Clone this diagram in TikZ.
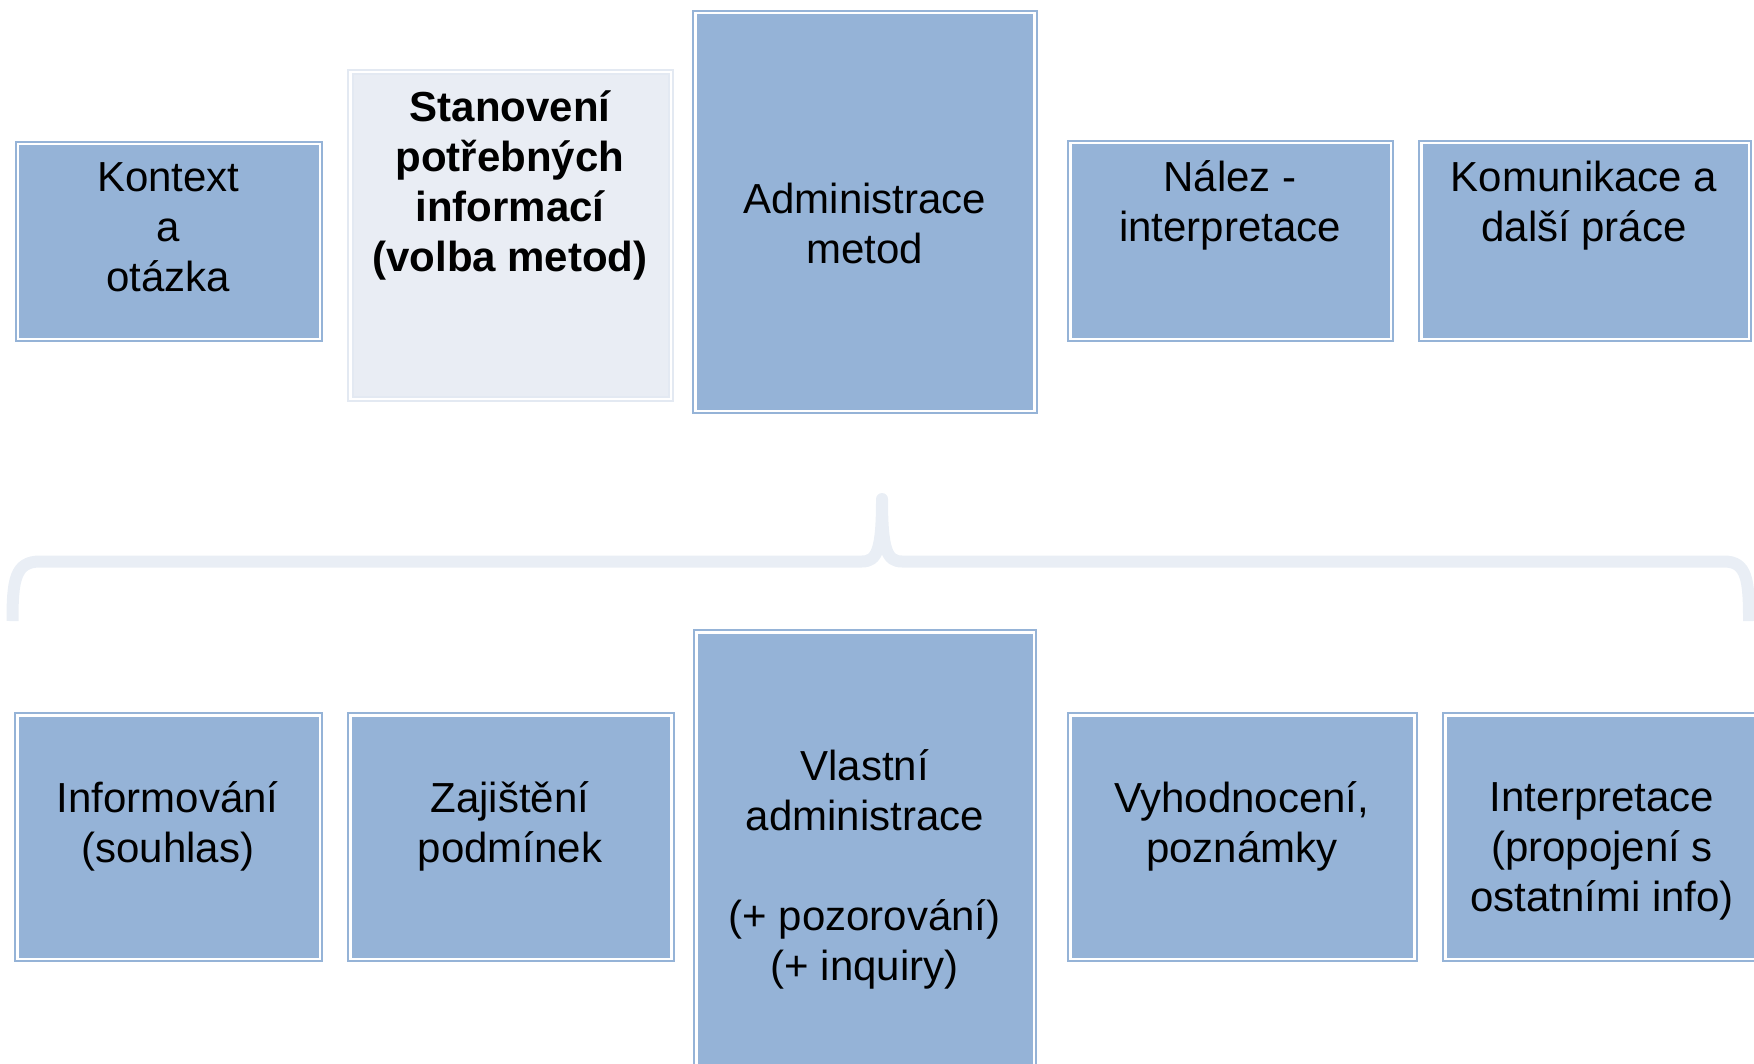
\documentclass[tikz,border=0pt]{standalone}
\usepackage{fontspec}
\setmainfont{Liberation Sans}
\definecolor{boxfill}{HTML}{95B3D7}
\definecolor{boxline}{HTML}{95B3D7}
\definecolor{palefill}{HTML}{E9EDF4}
\definecolor{paleline}{HTML}{E3E9F2}
\definecolor{bracecol}{HTML}{E9EEF5}
\begin{document}
\begin{tikzpicture}[x=0.5pt,y=-0.5pt,
  box/.style={draw=boxline, fill=boxfill, line width=1pt, double=white, double distance=1.25pt, inner sep=0pt},
  palebox/.style={box, draw=paleline, fill=palefill},
  txt/.style={align=center, font=\fontsize{21}{25}\selectfont, inner sep=0pt},
  boldtxt/.style={align=center, font=\fontsize{21}{25}\selectfont\bfseries, inner sep=0pt},
  brace/.style={draw=bracecol, line width=6pt, line join=round}
]
\useasboundingbox (0,0) rectangle (1754,1064);

% top row
\node[box, minimum width=150.9pt, minimum height=97.25pt] (kontext) at (168.9,241.5) {};
\node[palebox, minimum width=160.25pt, minimum height=163.25pt] (stanoveni) at (510.5,235.5) {};
\node[box, minimum width=169.5pt, minimum height=198.75pt] (admin) at (864.75,212) {};
\node[box, minimum width=160.25pt, minimum height=97.75pt] (nalez) at (1230.5,241) {};
\node[box, minimum width=163.75pt, minimum height=97.75pt] (komunikace) at (1585,241) {};

\node[txt] (tkontext) at (168.4,227.5) {Kontext\\a\\otázka};
\node[boldtxt] (tstanoveni) at (510,185) {Stanovení\\potřebných\\informací\\(volba metod)};
\node[txt] (tadmin) at (864.7,223) {Administrace\\metod};
\node[txt] (tnalez) at (1230,205.5) {Nález -\\interpretace};
\node[txt] (tkomunikace) at (1584,205.5) {Komunikace a\\další práce};

% brace
\draw[brace] (12.5,621) .. controls (12.5,580) and (15,561.5) .. (40,561.5) -- (862,561.5)
  .. controls (877,561.5) and (882,550) .. (882,499)
  .. controls (882,550) and (887,561.5) .. (902,561.5) -- (1724,561.5)
  .. controls (1747,561.5) and (1749,580) .. (1749,621);

% bottom row
\node[box, minimum width=151.25pt, minimum height=121.75pt] (informovani) at (168.5,837) {};
\node[box, minimum width=160.5pt, minimum height=121.75pt] (zajisteni) at (510.75,837) {};
\node[box, minimum width=168.75pt, minimum height=232.25pt] (vlastni) at (865,864.5) {};
\node[box, minimum width=172pt, minimum height=121.75pt] (vyhodnoceni) at (1242.3,837) {};
\node[box, minimum width=156.75pt, minimum height=121.75pt] (interpretace) at (1602,837) {};

\node[txt] (tinformovani) at (167.8,826.5) {Informování\\(souhlas)};
\node[txt] (tzajisteni) at (510,826.5) {Zajištění\\podmínek};
\node[txt] (tvlastni) at (864.7,869.5) {Vlastní\\administrace\\[25pt](+ pozorování)\\(+ inquiry)};
\node[txt] (tvyhodnoceni) at (1241.7,826.5) {Vyhodnocení,\\poznámky};
\node[txt] (tinterpretace) at (1602,851.5) {Interpretace\\(propojení s\\ostatními info)};
\end{tikzpicture}
\end{document}
